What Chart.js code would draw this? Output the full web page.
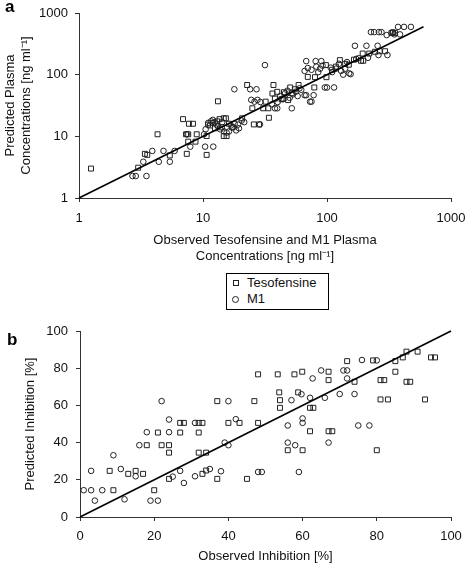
<!DOCTYPE html>
<html><head><meta charset="utf-8">
<script src="https://cdn.jsdelivr.net/npm/chart.js@4/dist/chart.umd.min.js"></script>
<style>
html,body{margin:0;padding:0;background:#fff;width:466px;height:564px;overflow:hidden;font-family:"Liberation Sans",Arial,sans-serif;}
#cA{position:absolute;left:0;top:0;}
#cB{position:absolute;left:0;top:318px;}
.panel{position:absolute;font-weight:bold;font-size:17px;line-height:17px;color:#000;}
#legend{position:absolute;left:226px;top:273px;width:103px;height:37px;box-sizing:border-box;border:1px solid #000;font-size:13px;color:#111;}
.item{position:absolute;left:20px;height:16px;line-height:16px;white-space:nowrap;}
.mk{position:absolute;box-sizing:border-box;border:1px solid #222;}
</style></head>
<body>
<canvas id="cA" width="466" height="268"></canvas>
<canvas id="cB" width="466" height="246"></canvas>
<div class="panel" style="left:5px;top:-2px">a</div>
<div class="panel" style="left:7px;top:331px">b</div>
<div id="legend"></div>
<script>
// ---- data ----
const seriesNames = ['Tesofensine', 'M1'];
const logTicks = [1, 10, 100, 1000];
const pctTicks = [0, 20, 40, 60, 80, 100];
const fitConc = [1, 600];
const fitInh = [0, 100];

// panel a: [observed, predicted] ng/ml
const tesoConc = [[1.25,3.0],[3.0,3.1],[3.4,5.2],[3.55,5.0],[4.3,10.8],[5.4,4.9],[6.9,19],[7.7,16],[8.3,16],[7.3,10.8],[7.6,10.8],[7.4,5.2],[7.6,8.2],[8.7,8.2],[8.9,10.8],[10.7,5.0],[10.7,10.1],[11.0,15.5],[11.4,15],[12,16.5],[12.5,13.5],[13,17.5],[13.2,37],[13.6,19],[14.2,14],[14.7,19.6],[15.3,19.6],[14.7,10.1],[15.5,10.1],[16.2,16],[17.2,14],[20.7,19.6],[22.7,68],[25,28.5],[25.7,15.6],[30.6,28.5],[33.6,28.5],[28.3,15.6],[32,36.5],[34,20],[36.3,49.5],[37,68],[38,41],[39.7,52.7],[43,40],[44.6,41],[45,52],[48.6,38.7],[50.5,62],[52,50],[55,58],[59,68],[70,92],[79,62],[80,91],[99,91],[98,143],[110,120],[118,135],[127,172],[140,150],[150,145],[165,175],[188,168],[196,168],[194,220],[219,220],[244,235],[266,240],[294,240],[331,472],[354,472],[340,485]];
const m1Conc = [[2.7,2.27],[2.87,2.27],[3.5,2.27],[3.3,3.87],[3.9,5.8],[4.4,3.87],[4.8,5.8],[5.4,3.87],[5.9,5.8],[7.9,6.8],[7.4,10.8],[10.2,10.8],[10.4,6.8],[12.1,6.8],[10.5,13],[11,16.5],[11.6,17.5],[12,18.5],[12.4,17],[12.8,15.5],[13.2,14.5],[13.8,13],[14.3,17],[14.8,12],[15.5,11.5],[16.2,12],[16.8,15],[17.5,14],[18,16],[18.5,12.5],[17.9,58],[19.2,15.5],[20.5,18],[21.5,17],[19.5,13.5],[24,58],[27,58],[24.5,39],[26,36.5],[27.5,39],[28.8,15.6],[29,36],[31.6,143],[36,33],[38,28.5],[39.7,28.5],[40,36],[42,45],[44,40],[46,50],[48,55],[50,42],[52,28.5],[53,48],[56,53],[58,45],[60,60],[62,57],[66,46.5],[68,46.5],[68,166],[66,115],[70,128],[73,36.5],[75,36.5],[75,120],[78,46.5],[81,166],[82,135],[85,110],[88,125],[90,166],[92,140],[96,62],[100,62],[107,130],[110,110],[114,62],[118,125],[125,150],[130,115],[135,100],[140,125],[145,160],[151,105],[155,102],[168,294],[172,180],[180,185],[208,294],[214,188],[226,490],[240,490],[256,294],[260,208],[262,490],[275,490],[303,438],[307,208],[338,485],[349,450],[374,595],[388,450],[418,595],[475,595]];

// panel b: [observed, predicted] % inhibition
const tesoInh = [[8,24.8],[9,14.4],[13,23.2],[15,24.8],[17,23.2],[18,38.6],[20,14.4],[21,45.4],[22,38.6],[24,38.6],[24,34.6],[24,20.5],[27,45.4],[27,50.6],[28,50.6],[32,50.6],[33,50.6],[32,45.4],[32,34.6],[34,34.6],[33,23.2],[34,25],[37,20.5],[37,62.3],[40,50.6],[43,50.6],[45,20.5],[47,62.3],[48,50.6],[48,76.7],[53.3,76.7],[57.8,76.7],[59.9,78.1],[53.7,67],[53.9,62.8],[53.9,58.7],[58.8,67],[62,58.7],[62.9,58.7],[56,35.9],[60,35.9],[62,46.1],[67,46.1],[68,46.1],[67,78.1],[67,73.6],[72,83.8],[74,72.7],[79,84.2],[80,35.9],[81,73.6],[82,73.6],[81,63.2],[83,63.2],[85,83.8],[85,78.1],[87,85.8],[88,88.9],[91,88.9],[88,72.7],[89,72.7],[93,63.2],[94.6,85.8],[95.7,85.8]];
const m1Inh = [[1,14.4],[3,14.4],[6,14.4],[4,8.8],[3,24.8],[9,33.2],[11,25.8],[12,9.5],[15,21.9],[16,38.6],[18,45.6],[19,8.8],[21,8.8],[22,62.3],[24,52.4],[24,45.6],[25,21.7],[27,24.8],[28,18.3],[31,21.9],[31,50.6],[35,25.8],[38,24.6],[39,40],[40,38.6],[40,62.3],[42,52.6],[48,24.2],[49,24.2],[56,49.2],[56,40],[58,38.6],[59,24.2],[60,50.6],[60,53],[57,62.8],[59.7,66],[62,64.1],[62.7,74.5],[65,78.8],[66,64.1],[67,40],[70,66.1],[71,78.8],[72,78.8],[72,74.5],[74,66.1],[75,49.2],[76,84.4],[78,49.2],[80,84.2]];

// ---- rendering ----
Chart.defaults.font.family = '"Liberation Sans", Arial, sans-serif';
Chart.defaults.font.size = 13;
Chart.defaults.color = '#111';
const AX = '#333';
const pts = arr => arr.map(([x, y]) => ({x, y}));
const line = f => f.map(v => ({x: v, y: v}));

function sets(teso, m1, fit) {
  return [
    {type:'line', label:'fit', data: line(fit), borderColor:'#000', borderWidth:1.6, pointRadius:0, fill:false, clip:false},
    {label: seriesNames[0], data: pts(teso), pointStyle:'rect', pointRadius:3.5, pointHoverRadius:3.5, borderColor:'#222', backgroundColor:'rgba(0,0,0,0)', borderWidth:1, clip:false},
    {label: seriesNames[1], data: pts(m1), pointStyle:'circle', pointRadius:2.8, pointHoverRadius:2.8, borderColor:'#222', backgroundColor:'rgba(0,0,0,0)', borderWidth:1, clip:false}
  ];
}

function axis(type, ticks, title, isX, sizeFix, tickPad, titlePad) {
  return {
    type, min: ticks[0], max: ticks[ticks.length - 1],
    afterBuildTicks: s => { s.ticks = ticks.map(v => ({value: v})); },
    ticks: {callback: v => String(v), padding: tickPad, autoSkip:false, maxRotation:0, color:'#111'},
    grid: {drawOnChartArea:false, drawTicks:true, tickLength:4, color:AX, lineWidth:1},
    border: {display:true, color:AX, width:1},
    title: {display:true, text:title, color:'#111', padding: titlePad, font:{size:13}},
    afterFit: s => {
      if (isX) { s.height = sizeFix; s.paddingLeft = 0; s.paddingRight = 0; }
      else { s.width = sizeFix; s.paddingTop = 0; s.paddingBottom = 0; }
    }
  };
}

const common = {
  responsive:false, animation:false, devicePixelRatio:1,
  plugins:{legend:{display:false}, tooltip:{enabled:false}},
  events:[]
};

new Chart(document.getElementById('cA'), {
  type:'scatter',
  data:{datasets: sets(tesoConc, m1Conc, fitConc)},
  options: Object.assign({}, common, {
    layout:{padding:{top:13, right:15, left:0, bottom:0}},
    scales:{
      x: axis('logarithmic', logTicks, ['Observed Tesofensine and M1 Plasma','Concentrations [ng ml\u207B\u00B9]'], true, 70, 9, {top:0, bottom:4}),
      y: axis('logarithmic', logTicks, ['Predicted Plasma','Concentrations [ng ml\u207B\u00B9]'], false, 79, 7, {top:3, bottom:0})
    }
  })
});

new Chart(document.getElementById('cB'), {
  type:'scatter',
  data:{datasets: sets(tesoInh, m1Inh, fitInh)},
  options: Object.assign({}, common, {
    layout:{padding:{top:13, right:15, left:0, bottom:0}},
    scales:{
      x: axis('linear', pctTicks, 'Observed Inhibition [%]', true, 47, 8, {top:0, bottom:0}),
      y: axis('linear', pctTicks, 'Predicted Inhibition [%]', false, 80, 8, {top:23, bottom:0})
    }
  })
});

// legend from series names
const lg = document.getElementById('legend');
seriesNames.forEach((name, i) => {
  const mk = document.createElement('div');
  mk.className = 'mk';
  if (i === 0) { mk.style.cssText = 'left:6px;top:6px;width:6px;height:6px;'; }
  else { mk.style.cssText = 'left:5px;top:22px;width:7px;height:7px;border-radius:50%;'; }
  lg.appendChild(mk);
  const it = document.createElement('div');
  it.className = 'item';
  it.style.top = (1 + 16 * i) + 'px';
  it.textContent = name;
  lg.appendChild(it);
});
</script>
</body></html>
